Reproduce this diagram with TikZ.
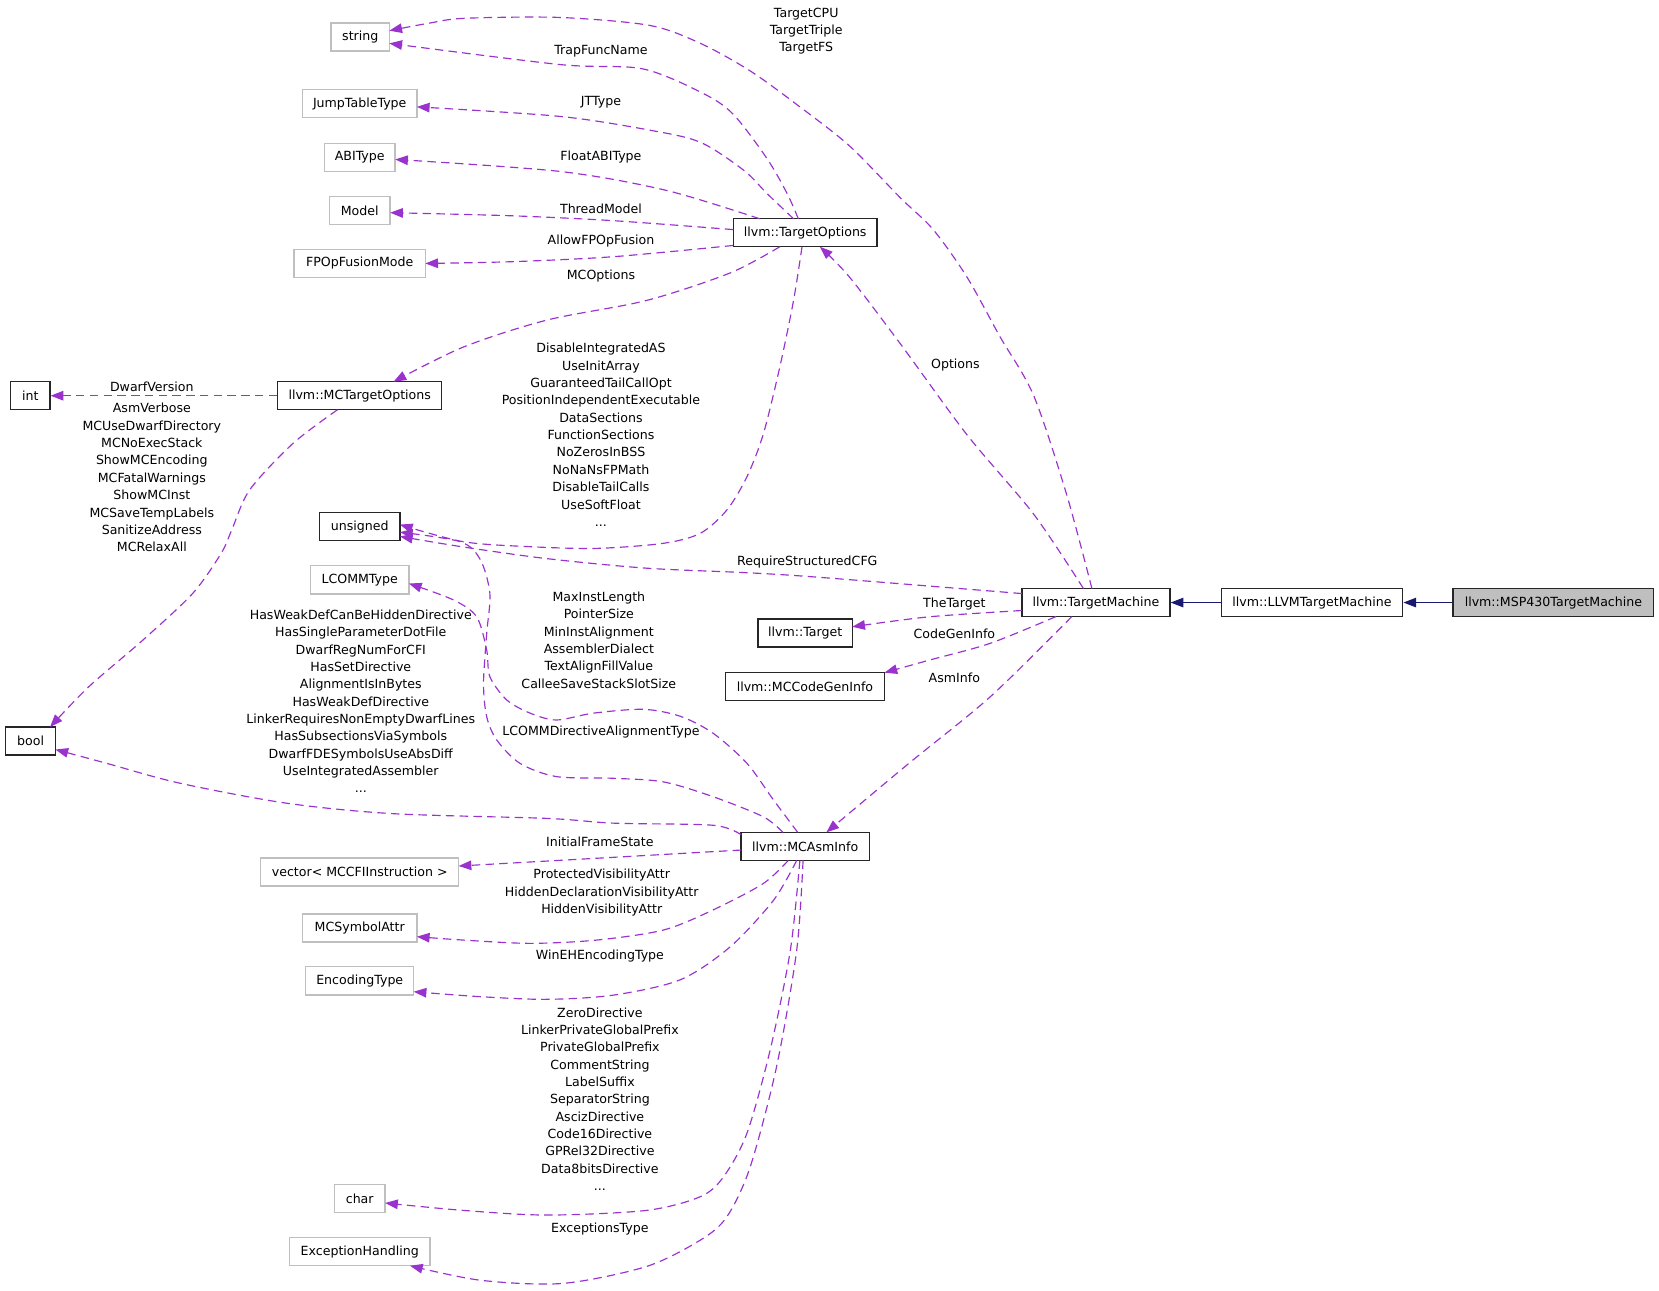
\documentclass[tikz,border=0pt]{standalone}
\usepackage{fontspec}
\setmainfont{DejaVu Sans}
\usetikzlibrary{arrows.meta,calc}
\definecolor{edgepurple}{HTML}{9A32CD}
\definecolor{inhblue}{HTML}{191970}
\definecolor{greyborder}{HTML}{BFBFBF}
\definecolor{greyfill}{HTML}{BFBFBF}
\begin{document}
\begin{tikzpicture}[x=1pt,y=-1pt,
  every node/.style={font=\fontsize{11.9}{16.4}\selectfont},
  cls/.style={draw=black!85,line width=1.3pt,fill=white,minimum height=26.5pt,inner sep=0pt},
  ext/.style={draw=greyborder,line width=1.3pt,fill=white,minimum height=26.5pt,inner sep=0pt},
  cur/.style={draw=black!85,line width=1.3pt,fill=greyfill,minimum height=26.5pt,inner sep=0pt},
  lbl/.style={align=center,inner sep=0pt},
  rel/.style={draw=edgepurple,line width=1.1pt,dash pattern=on 8pt off 5pt,-{Triangle[length=12pt,width=9pt]}},
  inh/.style={draw=inhblue,line width=1.1pt,-{Triangle[length=12pt,width=9pt]}}]
\useasboundingbox[fill=white] (0,0) rectangle (1568,1220);

% nodes
\node[ext,minimum width=55pt]    (string)   at (340.5,35)   {string};
\node[ext,minimum width=108pt]   (jtt)      at (340,98)     {JumpTableType};
\node[ext,minimum width=67pt]    (abi)      at (340,148.7)  {ABIType};
\node[ext,minimum width=57.5pt]  (model)    at (340,199)    {Model};
\node[ext,minimum width=124pt]   (fpop)     at (340,249)    {FPOpFusionMode};
\node[cls,minimum width=37pt]    (int)      at (28.7,374)   {int};
\node[cls,minimum width=155pt]   (mcto)     at (340,374)    {llvm::MCTargetOptions};
\node[cls,minimum width=136pt]   (to)       at (761,220)    {llvm::TargetOptions};
\node[cls,minimum width=76pt]    (unsigned) at (340,497.8)  {unsigned};
\node[ext,minimum width=93pt]    (lcomm)    at (340,548)    {LCOMMType};
\node[cls,minimum width=47pt]    (bool)     at (28.9,700.4) {bool};
\node[cls,minimum width=140pt]   (tm)       at (1035.8,569.5) {llvm::TargetMachine};
\node[cls,minimum width=171.6pt] (llvmtm)   at (1240,569.5) {llvm::LLVMTargetMachine};
\node[cur,minimum width=189.6pt] (msp)      at (1468.2,569.5) {llvm::MSP430TargetMachine};
\node[cls,minimum width=89pt]    (target)   at (761,598.4)  {llvm::Target};
\node[cls,minimum width=150.5pt] (mccgi)    at (760.8,649)  {llvm::MCCodeGenInfo};
\node[cls,minimum width=121pt]   (mcasm)    at (761,800)    {llvm::MCAsmInfo};
\node[ext,minimum width=187pt]   (vec)      at (340,824)    {vector< MCCFIInstruction >};
\node[ext,minimum width=108pt]   (mcsym)    at (340,877)    {MCSymbolAttr};
\node[ext,minimum width=102pt]   (enc)      at (340,927)    {EncodingType};
\node[ext,minimum width=48pt]    (char)     at (340,1133)   {char};
\node[ext,minimum width=132.7pt] (exc)      at (340,1183)   {ExceptionHandling};

% end points
\coordinate (e1s) at ($(tm.center)+(-3.8,-13.25)$);
\coordinate (e1e) at ($(string.center)+(27.5,-6)$);
\coordinate (e2s) at ($(to.center)+(-6.5,-13.25)$);
\coordinate (e2e) at ($(string.center)+(27.5,6)$);
\coordinate (e3s) at ($(to.center)+(-11,-13.25)$);
\coordinate (e3e) at ($(jtt.center)+(54,3)$);
\coordinate (e4s) at ($(to.center)+(-43,-13.25)$);
\coordinate (e4e) at ($(abi.center)+(33.5,2)$);
\coordinate (e5s) at ($(to.center)+(-68,-3)$);
\coordinate (e5e) at ($(model.center)+(28.75,2)$);
\coordinate (e6s) at ($(to.center)+(-68,12)$);
\coordinate (e6e) at ($(fpop.center)+(62,0)$);
\coordinate (e7s) at ($(to.center)+(-24,13.25)$);
\coordinate (e7e) at ($(mcto.center)+(32,-13.25)$);
\coordinate (e9s) at ($(mcto.center)+(-21,13.25)$);
\coordinate (e9e) at ($(bool.center)+(18.4,-13.25)$);
\coordinate (e10s) at ($(to.center)+(-3,13.25)$);
\coordinate (e10e) at ($(unsigned.center)+(38,-2)$);
\coordinate (e11s) at ($(tm.center)+(-70,-8.5)$);
\coordinate (e11e) at ($(unsigned.center)+(38,9.2)$);
\coordinate (e12s) at ($(mcasm.center)+(-21,-13.25)$);
\coordinate (e12e) at ($(unsigned.center)+(38,5.2)$);
\coordinate (e13s) at ($(mcasm.center)+(-7,-13.25)$);
\coordinate (e13e) at ($(lcomm.center)+(46.5,3.5)$);
\coordinate (e14s) at ($(mcasm.center)+(-60.5,-11)$);
\coordinate (e14e) at ($(bool.center)+(23.5,8)$);
\coordinate (e15s) at ($(mcasm.center)+(-60.5,3.4)$);
\coordinate (e15e) at ($(vec.center)+(93.5,-5.5)$);
\coordinate (e16s) at ($(mcasm.center)+(-16,13.25)$);
\coordinate (e16e) at ($(mcsym.center)+(54,8.3)$);
\coordinate (e17s) at ($(mcasm.center)+(-8,13.25)$);
\coordinate (e17e) at ($(enc.center)+(51,10.3)$);
\coordinate (e18s) at ($(mcasm.center)+(-5,13.25)$);
\coordinate (e18e) at ($(char.center)+(24,4)$);
\coordinate (e19s) at ($(mcasm.center)+(-2,13.25)$);
\coordinate (e19e) at ($(exc.center)+(47.5,13.25)$);
\coordinate (e20s) at ($(tm.center)+(-11.8,-13.25)$);
\coordinate (e20e) at ($(to.center)+(14,13.25)$);
\coordinate (e21s) at ($(tm.center)+(-70,7.5)$);
\coordinate (e21e) at ($(target.center)+(44.5,-6)$);
\coordinate (e22s) at ($(tm.center)+(-37.8,13.25)$);
\coordinate (e22e) at ($(mccgi.center)+(75.2,-13.25)$);
\coordinate (e23s) at ($(tm.center)+(-22.8,13.25)$);
\coordinate (e23e) at ($(mcasm.center)+(20,-13.25)$);

% edges
\draw[rel] plot[smooth] coordinates {(e1s) (1008,467) (977,374) (945,318) (914,262) (882,217) (851,187) (803,138) (756,101) (709,67) (662,41) (614,24) (529,16.5) (439,17.3) (405,22) (e1e)};
\draw[rel] plot[smooth] coordinates {(e2s) (744,183) (725,150) (693,108) (664,88) (607,65) (529,61) (e2e)};
\draw[rel] plot[smooth] coordinates {(e3s) (725,183) (703,161) (662,134.5) (614,123) (529,110) (e3e)};
\draw[rel] plot[smooth] coordinates {(e4s) (630,180) (529,162) (e4e)};
\draw[rel] plot[smooth] coordinates {(e5s) (580,208.6) (485,204) (e5e)};
\draw[rel] plot[smooth] coordinates {(e6s) (580,242.6) (485,247.3) (e6e)};
\draw[rel] plot[smooth] coordinates {(e7s) (690,258) (611,284) (517,302.5) (438,328) (e7e)};
\draw[rel] (mcto.west) -- (int.east);
\draw[rel] plot[smooth] coordinates {(e9s) (277,419) (236,463) (219,501) (209,523) (182,561) (135,605) (84,649) (e9e)};
\draw[rel] plot[smooth] coordinates {(e10s) (750,284) (737,347) (721.5,410) (706,450.5) (687,482) (662,504) (627,513.5) (564,518.3) (501,516.7) (438,512) (e10e)};
\draw[rel] plot[smooth] coordinates {(e11s) (775,545.7) (706,541.3) (611,537) (517,528) (438,517) (e11e)};
\draw[rel] plot[smooth] coordinates {(e12s) (721.5,772) (674,753) (627,739) (580,735.6) (526,734) (491.5,721.5) (469.5,699.4) (460,677.4) (457,646) (460,598.6) (463,561) (454,529) (435,512) (e12e)};
\draw[rel] plot[smooth] coordinates {(e13s) (731,756) (706,721.5) (674,693) (643,677) (608,670.4) (561,674) (526,680.5) (501,674) (479,661.6) (463,639.6) (460,614.4) (450.5,583) (428.5,567) (e13e)};
\draw[rel] plot[smooth] coordinates {(e14s) (674,780) (580,778) (517,773.5) (371,769) (270,759) (169,740) (101,721.5) (e14e)};
\draw[rel] plot[smooth] coordinates {(e15s) (567,811) (e15e)};
\draw[rel] plot[smooth] coordinates {(e16s) (721.5,835) (674,860) (627,879) (564,888.5) (501,891.6) (438,888.5) (e16e)};
\draw[rel] plot[smooth] coordinates {(e17s) (731,851) (690,895) (643,926) (580,940.5) (517,944.5) (454,942) (e17e)};
\draw[rel] plot[smooth] coordinates {(e18s) (747,898) (728,992) (706,1071) (684,1112) (662,1131) (611,1144) (517,1148.4) (438,1144) (e18e)};
\draw[rel] plot[smooth] coordinates {(e19s) (753,898) (734,1008) (709,1103) (687,1150) (662,1172) (611,1197) (532,1213) (454,1210) (e19e)};
\draw[rel] plot[smooth] coordinates {(e20s) (977,486) (914,411) (851,325) (803,262) (e20e)};
\draw[rel] plot[smooth] coordinates {(e21s) (878,583) (e21e)};
\draw[rel] plot[smooth] coordinates {(e22s) (936,608) (878,624) (e22e)};
\draw[rel] plot[smooth] coordinates {(e23s) (936,658.5) (859,721.5) (e23e)};
\draw[inh] (llvmtm.west) -- (tm.east);
\draw[inh] (msp.west) -- (llvmtm.east);

% labels
\node[lbl] (l1)  at (762,29.5)  {TargetCPU\\TargetTriple\\TargetFS};
\node[lbl] (l2)  at (568,48)    {TrapFuncName};
\node[lbl] (l3)  at (568,97)    {JTType};
\node[lbl] (l4)  at (568,148)   {FloatABIType};
\node[lbl] (l5)  at (568,197)   {ThreadModel};
\node[lbl] (l6)  at (568,227.5) {AllowFPOpFusion};
\node[lbl] (l7)  at (568,260.6) {MCOptions};
\node[lbl] (l8)  at (143.5,365.5) {DwarfVersion};
\node[lbl] (l9)  at (143.5,451.4) {AsmVerbose\\MCUseDwarfDirectory\\MCNoExecStack\\ShowMCEncoding\\MCFatalWarnings\\ShowMCInst\\MCSaveTempLabels\\SanitizeAddress\\MCRelaxAll};
\node[lbl] (l10) at (568,411)   {DisableIntegratedAS\\UseInitArray\\GuaranteedTailCallOpt\\PositionIndependentExecutable\\DataSections\\FunctionSections\\NoZerosInBSS\\NoNaNsFPMath\\DisableTailCalls\\UseSoftFloat\\...};
\node[lbl] (l11) at (763,531.5) {RequireStructuredCFG};
\node[lbl] (l12) at (903,344.6) {Options};
\node[lbl] (l13) at (902,570.5) {TheTarget};
\node[lbl] (l14) at (902,599.5) {CodeGenInfo};
\node[lbl] (l15) at (902,641)   {AsmInfo};
\node[lbl] (l16) at (566,605)   {MaxInstLength\\PointerSize\\MinInstAlignment\\AssemblerDialect\\TextAlignFillValue\\CalleeSaveStackSlotSize};
\node[lbl] (l17) at (568,691.5) {LCOMMDirectiveAlignmentType};
\node[lbl] (l18) at (341,662.8) {HasWeakDefCanBeHiddenDirective\\HasSingleParameterDotFile\\DwarfRegNumForCFI\\HasSetDirective\\AlignmentIsInBytes\\HasWeakDefDirective\\LinkerRequiresNonEmptyDwarfLines\\HasSubsectionsViaSymbols\\DwarfFDESymbolsUseAbsDiff\\UseIntegratedAssembler\\...};
\node[lbl] (l19) at (567,796)   {InitialFrameState};
\node[lbl] (l20) at (568.7,843.7) {ProtectedVisibilityAttr\\HiddenDeclarationVisibilityAttr\\HiddenVisibilityAttr};
\node[lbl] (l21) at (567,903.3) {WinEHEncodingType};
\node[lbl] (l22) at (567,1038.7) {ZeroDirective\\LinkerPrivateGlobalPrefix\\PrivateGlobalPrefix\\CommentString\\LabelSuffix\\SeparatorString\\AscizDirective\\Code16Directive\\GPRel32Directive\\Data8bitsDirective\\...};
\node[lbl] (l23) at (567,1161.3) {ExceptionsType};
\end{tikzpicture}
\end{document}
